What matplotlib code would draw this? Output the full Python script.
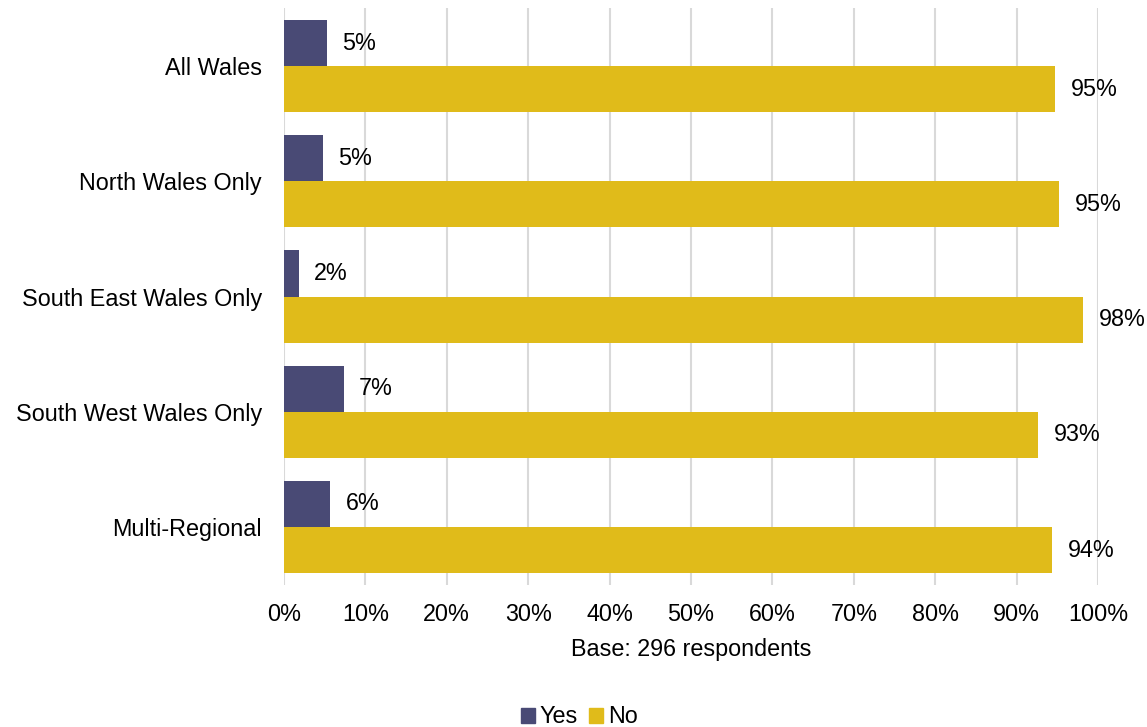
import matplotlib
matplotlib.use("Agg")
import matplotlib.pyplot as plt
import numpy as np
from matplotlib.patches import Patch

categories = ["All Wales", "North Wales Only", "South East Wales Only",
              "South West Wales Only", "Multi-Regional"]
yes_vals = [5.3, 4.8, 1.8, 7.4, 5.7]
no_vals = [94.7, 95.2, 98.2, 92.6, 94.3]
yes_labels = ["5%", "5%", "2%", "7%", "6%"]
no_labels = ["95%", "95%", "98%", "93%", "94%"]
xticks = list(range(0, 101, 10))
xtick_labels = [f"{t}%" for t in xticks]

YES_C = "#494A75"
NO_C = "#E0BB1A"
FS = 16.8

plt.rcParams['font.family'] = ['Liberation Sans', 'DejaVu Sans']

fig = plt.figure(figsize=(11.47, 7.27), dpi=100)
ax = fig.add_axes([0.2476, 0.1959, 0.7097, 0.7925])

y = np.arange(len(categories))
h = 0.4
ax.barh(y - h / 2, yes_vals, height=h, color=YES_C, zorder=3)
ax.barh(y + h / 2, no_vals, height=h, color=NO_C, zorder=3)

for i in range(len(categories)):
    ax.annotate(yes_labels[i], (yes_vals[i], y[i] - h / 2), xytext=(15, 0),
                textcoords="offset pixels", va="center", ha="left", fontsize=FS)
    ax.annotate(no_labels[i], (no_vals[i], y[i] + h / 2), xytext=(16, 0),
                textcoords="offset pixels", va="center", ha="left", fontsize=FS)

ax.set_xlim(0, 100)
ax.set_ylim(len(categories) - 0.5, -0.5)
ax.set_xticks(xticks)
ax.set_xticklabels(xtick_labels, fontsize=FS)
ax.set_yticks(y)
ax.set_yticklabels(categories, fontsize=FS)
ax.tick_params(axis="x", length=0, pad=13)
ax.tick_params(axis="y", length=0, pad=15.8)
ax.grid(axis="x", color="#D9D9D9", linewidth=1.5, zorder=0)
for s in ax.spines.values():
    s.set_visible(False)

ax.set_xlabel("Base: 296 respondents", fontsize=FS, labelpad=9)

handles = [Patch(color=YES_C, label="Yes"), Patch(color=NO_C, label="No")]
fig.legend(handles=handles, loc="center", bbox_to_anchor=(0.505, 0.014),
           ncol=2, frameon=False, fontsize=FS, handlelength=0.6,
           handleheight=0.6, handletextpad=0.2, columnspacing=0.5)

fig.savefig("out.png", dpi=100)
